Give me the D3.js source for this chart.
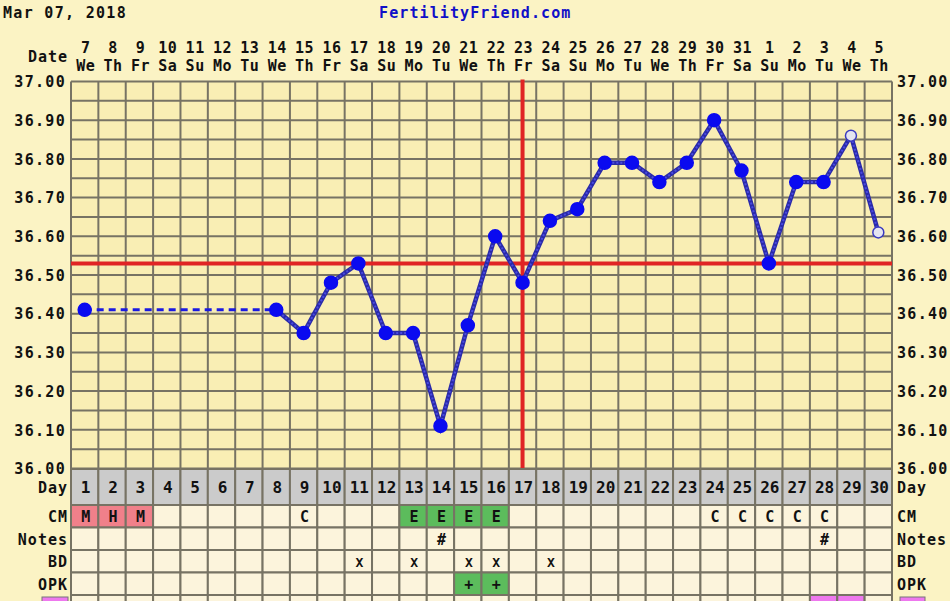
<!DOCTYPE html>
<html><head><meta charset="utf-8">
<script src="https://cdn.jsdelivr.net/npm/d3@7"></script>
<style>
body{margin:0;background:#fbf3c4;}
svg{display:block;}
text{font-family:"DejaVu Sans Mono",monospace;font-weight:bold;}
</style></head>
<body>
<svg id="c" width="950" height="601"></svg>
<script>
const headerDate = "Mar 07, 2018";
const siteTitle = "FertilityFriend.com";
const cycleDays = d3.range(1, 31);
const dateLabels = ["7","8","9","10","11","12","13","14","15","16","17","18","19","20","21","22","23","24","25","26","27","28","29","30","31","1","2","3","4","5"];
const weekdayLabels = ["We","Th","Fr","Sa","Su","Mo","Tu","We","Th","Fr","Sa","Su","Mo","Tu","We","Th","Fr","Sa","Su","Mo","Tu","We","Th","Fr","Sa","Su","Mo","Tu","We","Th"];
const temps = [36.41,null,null,null,null,null,null,36.41,36.35,36.48,36.53,36.35,36.35,36.11,36.37,36.60,36.48,36.64,36.67,36.79,36.79,36.74,36.79,36.90,36.77,36.53,36.74,36.74,36.86,36.61];
const openDays = [29,30];
const coverline = 36.53;
const ovulationDay = 17;
const yTicks = [36.00,36.10,36.20,36.30,36.40,36.50,36.60,36.70,36.80,36.90,37.00];
const cmRow = ["M","H","M","","","","","","C","","","","E","E","E","E","","","","","","","","C","C","C","C","C","",""];
const notesRow = ["","","","","","","","","","","","","","#","","","","","","","","","","","","","","#","",""];
const bdRow = ["","","","","","","","","","","X","","X","","X","X","","X","","","","","","","","","","","",""];
const opkRow = ["","","","","","","","","","","","","","","+","+","","","","","","","","","","","","","",""];
const markRow = ["","","","","","","","","","","","","","","","","","","","","","","","","","","","1","1",""];

const svg = d3.select("#c");
const X0 = 71, X1 = 892, YT = 81.5, YB = 468.5;
const x = d3.scaleBand().domain(cycleDays).range([X0, X1]);
const y = d3.scaleLinear().domain([36, 37]).range([YB, YT]);
const cx = d => x(d) + x.bandwidth()/2;
const gridCol = "#777364";

// header
svg.append("text").attr("x",3).attr("y",18).attr("font-size",15).attr("letter-spacing",1.3).attr("fill","#111").text(headerDate);
svg.append("text").attr("x",379).attr("y",18).attr("font-size",15).attr("letter-spacing",1.1).attr("fill","#1010c8").text(siteTitle);

// date header
svg.append("text").attr("x",68).attr("y",62).attr("text-anchor","end").attr("font-size",15).attr("letter-spacing",1).attr("fill","#111").text("Date");
svg.append("g").selectAll("text").data(cycleDays).join("text")
  .attr("x", d=>cx(d)+1).attr("y",53).attr("text-anchor","middle").attr("font-size",15).attr("letter-spacing",0.5).attr("fill","#111")
  .text((d,i)=>dateLabels[i]);
svg.append("g").selectAll("text").data(cycleDays).join("text")
  .attr("x", d=>cx(d)+1).attr("y",71).attr("text-anchor","middle").attr("font-size",15).attr("letter-spacing",0.5).attr("fill","#111")
  .text((d,i)=>weekdayLabels[i]);

// plot background
svg.append("rect").attr("x",X0).attr("y",YT).attr("width",X1-X0).attr("height",YB-YT).attr("fill","#f9eeb4");

// grid
const hLines = d3.range(0, 21).map(i => 36 + i*0.05);
svg.append("g").selectAll("line").data(hLines).join("line")
  .attr("x1",X0).attr("x2",X1).attr("y1",d=>y(d)).attr("y2",d=>y(d)).attr("stroke",gridCol).attr("stroke-width",2);
svg.append("g").selectAll("line").data(cycleDays.concat([31])).join("line")
  .attr("x1",d=> d<=30 ? x(d) : X1).attr("x2",d=> d<=30 ? x(d) : X1).attr("y1",YT).attr("y2",YB).attr("stroke",gridCol).attr("stroke-width",2);

// axes labels
const fmt = d3.format(".2f");
const leftAxis = d3.axisLeft(y).tickValues(yTicks).tickFormat(fmt).tickSize(0).tickPadding(4);
const gl = svg.append("g").attr("transform",`translate(${X0-1},0)`).call(leftAxis);
gl.select(".domain").remove();
gl.selectAll("text").attr("font-size",15).attr("letter-spacing",1.3).attr("fill","#111").attr("font-family","DejaVu Sans Mono").attr("font-weight","bold").attr("dy","0.35em");
const rightAxis = d3.axisRight(y).tickValues(yTicks).tickFormat(fmt).tickSize(0).tickPadding(5);
const gr = svg.append("g").attr("transform",`translate(${X1},0)`).call(rightAxis);
gr.select(".domain").remove();
gr.selectAll("text").attr("font-size",15).attr("letter-spacing",1.3).attr("fill","#111").attr("font-family","DejaVu Sans Mono").attr("font-weight","bold").attr("dy","0.35em");

// coverline & ovulation line
svg.append("line").attr("x1",X0).attr("x2",X1).attr("y1",y(coverline)).attr("y2",y(coverline)).attr("stroke","#e02424").attr("stroke-width",4);
svg.append("line").attr("x1",cx(ovulationDay)).attr("x2",cx(ovulationDay)).attr("y1",YT-2).attr("y2",YB).attr("stroke","#e02424").attr("stroke-width",4);

// temperature line
const pts = cycleDays.map((d,i)=>({d, t: temps[i]})).filter(p=>p.t!==null);
const line = d3.line().x(p=>cx(p.d)).y(p=>y(p.t));
const firstGap = [pts[0], pts[1]];
svg.append("path").attr("d", line(firstGap)).attr("fill","none").attr("stroke","#1a1ae0").attr("stroke-width",3).attr("stroke-dasharray","7,5");
const solid = pts.slice(1);
svg.append("path").attr("d", line(solid)).attr("fill","none").attr("stroke","#2a2aa8").attr("stroke-width",4.5);
svg.append("path").attr("d", line(solid)).attr("fill","none").attr("stroke","#4a4ae0").attr("stroke-width",2).attr("stroke-dasharray","2,2");
svg.append("g").selectAll("circle").data(pts).join("circle")
  .attr("cx",p=>cx(p.d)).attr("cy",p=>y(p.t))
  .attr("r",p=>openDays.includes(p.d)?5.5:6.5)
  .attr("fill",p=>openDays.includes(p.d)?"#e4e4f0":"#0a0af0")
  .attr("stroke",p=>openDays.includes(p.d)?"#3a3ac0":"#0a0af0")
  .attr("stroke-width",1.5);

// table
const rowsDef = [
  {label:"Day", top:469, h:36, data: cycleDays.map(String), bg: ()=>"#cbcbcb"},
  {label:"CM", top:505, h:22.5, data: cmRow, bg: v=> (v==="M"||v==="H") ? "#f0808a" : (v==="E" ? "#5cbc5c" : "#fcf4dc")},
  {label:"Notes", top:527.5, h:22.5, data: notesRow, bg: ()=>"#fcf4dc"},
  {label:"BD", top:550, h:22.5, data: bdRow, bg: ()=>"#fcf4dc"},
  {label:"OPK", top:572.5, h:22.5, data: opkRow, bg: v=> v==="+" ? "#5cbc5c" : "#fcf4dc"},
  {label:"", top:595, h:22.5, data: markRow, bg: v=> v ? "#ee78ee" : "#fcf4dc"}
];
rowsDef.forEach((r,ri)=>{
  const g = svg.append("g");
  g.selectAll("rect").data(cycleDays).join("rect")
    .attr("x",d=>x(d)).attr("y",r.top).attr("width",x.bandwidth()).attr("height",r.h)
    .attr("fill",(d,i)=>r.bg(r.data[i])).attr("stroke",gridCol).attr("stroke-width",2);
  const isMark = r.label==="";
  if(!isMark){
    g.selectAll("text").data(cycleDays).join("text")
      .attr("x",d=>cx(d)+1).attr("y",r.top + r.h/2 + 6)
      .attr("text-anchor","middle").attr("font-size", ri===0?16:(r.label==="BD"?13:15)).attr("fill","#111")
      .text((d,i)=> r.data[i]);
    svg.append("text").attr("x",68).attr("y",r.top + r.h/2 + 6).attr("text-anchor","end").attr("font-size",15).attr("letter-spacing",1).attr("fill","#111").text(r.label);
    svg.append("text").attr("x",897).attr("y",r.top + r.h/2 + 6).attr("font-size",15).attr("letter-spacing",1).attr("fill","#111").text(r.label);
  } else {
    svg.append("rect").attr("x",42).attr("y",r.top+2).attr("width",26).attr("height",14).attr("fill","#ee78ee").attr("stroke","#777").attr("stroke-width",1);
    svg.append("rect").attr("x",900).attr("y",r.top+2).attr("width",25).attr("height",14).attr("fill","#ee78ee").attr("stroke","#777").attr("stroke-width",1);
  }
});
</script>
</body></html>
